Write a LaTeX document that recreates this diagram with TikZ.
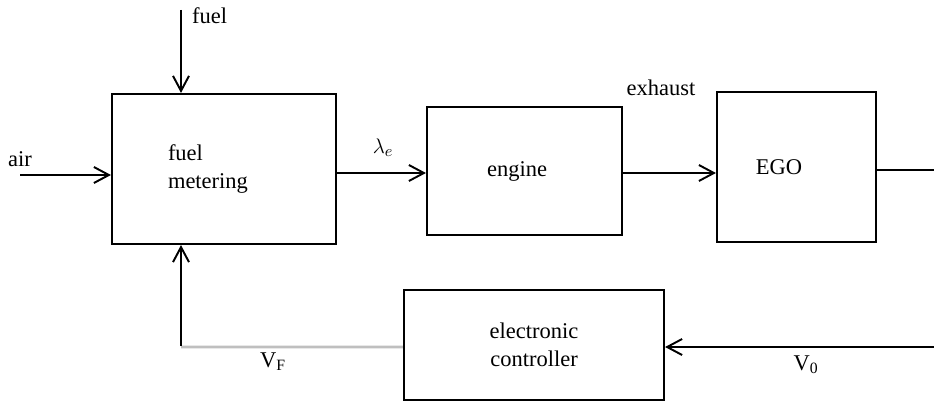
\documentclass[tikz,border=0pt]{standalone}
\usepackage{fontspec}
\setmainfont{Liberation Serif}
\usepackage{amsmath}
\usetikzlibrary{arrows.meta,positioning,calc}

\begin{document}
\begin{tikzpicture}[
      block/.style={rectangle, draw, line width=1.2pt, align=center,
                    font=\fontsize{12.8}{16}\selectfont, inner sep=0pt},
      arrow/.style={->, >={Straight Barb[length=0.3cm,width=0.32cm,line width=1.1pt]}, line width=1.2pt},
      lbl/.style={font=\fontsize{12.8}{16}\selectfont, inner sep=1pt},
    ]
    \useasboundingbox (0,0) rectangle (18.68,-8.06);

    \node[block, minimum height=3cm, text width=2.24cm, inner xsep=1.12cm, align=left]
      (meter) at (4.48,-3.38) {fuel\\metering};
    \node[block, minimum width=3.9cm, minimum height=2.56cm] (engine) at (10.49,-3.42) {engine\hspace{0.3cm}};
    \node[block, minimum width=3.18cm, minimum height=3cm] (ego) at (15.93,-3.34) {EGO\hspace{0.7cm}};
    \node[block, minimum width=5.2cm, minimum height=2.2cm] (ctrl) at (10.68,-6.9) {electronic\\controller\hspace{0.4cm}};

    \coordinate (air) at (0.4,-3.5);
    \coordinate (fuelin) at (3.62,-0.2);
    \coordinate (edge) at (19.2,-3.4);

    \node[lbl] (airlbl) at (0.4,-3.18) {air};
    \node[lbl, anchor=west] (fuellbl) at (3.8,-0.32) {fuel};
    \node[lbl] (lam) at (7.66,-2.96) {$\lambda_e$};
    \node[lbl] (exh) at (13.22,-1.76) {exhaust};
    \node[lbl] (vo) at (16.12,-7.3) {V$_\text{0}$};
    \node[lbl] (vf) at (5.46,-7.24) {V$_\text{F}$};

    \draw[arrow] (air) -- (meter.west |- air);
    \draw[arrow] (fuelin) -- (meter.north -| fuelin);
    \draw[arrow] (meter.east |- 0,-3.46) -- (engine.west |- 0,-3.46);
    \draw[arrow] (engine.east |- 0,-3.46) -- (ego.west |- 0,-3.46);

    % sensor signal back to the controller
    \draw[arrow] (ego.east |- edge) -- (edge) |- ($(ctrl.east)+(0,-0.04)$);

    % control voltage to fuel metering
    \draw[line width=1.6pt, gray!50] ($(ctrl.west)+(0,-0.04)$) -- (fuelin |- 0,-6.94);
    \draw[arrow] ($(fuelin |- 0,-6.94)+(0,0.02)$) -- (meter.south -| fuelin);
  \end{tikzpicture}
\end{document}
